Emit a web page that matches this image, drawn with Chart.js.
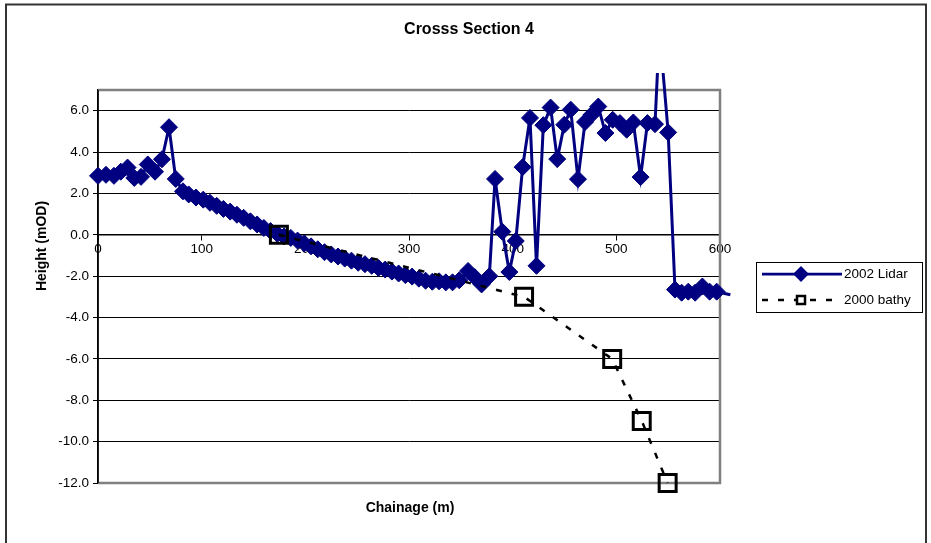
<!DOCTYPE html>
<html>
<head>
<meta charset="utf-8">
<script src="https://cdn.jsdelivr.net/npm/chart.js@4.4.0/dist/chart.umd.min.js"></script>
<style>
body { margin: 0; background: #fff; }
#wrap { width: 931px; height: 543px; }
</style>
</head>
<body>
<div id="wrap"><canvas id="graf"></canvas></div>
<script>
// chainage (m) and height (mOD)
const lidarX = [0, 7.7, 15.4, 22, 28.5, 35, 41.5, 48, 55, 61.7,
    68.5, 75, 82, 87.5, 94.5, 101.5, 108, 114.5, 121, 127.5,
    134, 140.5, 147, 153.5, 160, 166.5, 173, 179.5, 186, 192.5,
    199, 205.5, 212, 218.5, 225, 231.5, 238, 244.5, 251, 257.5,
    264, 270.5, 277, 283.5, 290, 296.5, 303, 309.5, 316, 322.5,
    329, 335.5, 342, 348.5, 357, 363.5, 370, 377.5, 383, 390,
    396.8, 403, 409.6, 416.7, 423, 429.6, 436.6, 443, 449.8, 456,
    463, 469.8, 476, 482.6, 489.5, 496.5, 503.5, 510, 516.4, 523.4,
    530, 537.3, 541.6, 550, 556.6, 563, 569.4, 576, 583, 590,
    596.8, 610];
const lidarY = [2.85, 2.9, 2.85, 3.05, 3.25, 2.75, 2.8, 3.4, 3.05, 3.65,
    5.2, 2.7, 2.1, 1.95, 1.8, 1.7, 1.55, 1.4, 1.25, 1.12,
    0.97, 0.82, 0.65, 0.5, 0.33, 0.18, 0.05, -0.08, -0.15, -0.28,
    -0.42, -0.56, -0.7, -0.84, -0.95, -1.05, -1.15, -1.25, -1.35, -1.42,
    -1.5, -1.6, -1.68, -1.78, -1.87, -1.95, -2.02, -2.12, -2.22, -2.27,
    -2.25, -2.3, -2.3, -2.2, -1.75, -2.05, -2.4, -2.0, 2.7, 0.15,
    -1.8, -0.3, 3.27, 5.65, -1.5, 5.3, 6.15, 3.66, 5.32, 6.05,
    2.69, 5.45, 5.8, 6.2, 4.92, 5.56, 5.4, 5.08, 5.43, 2.79,
    5.4, 5.35, 9.9, 4.95, -2.65, -2.8, -2.75, -2.8, -2.5, -2.75,
    -2.75, -2.9];

const bathyX = [174.5, 411, 496, 524.5, 549.5];
const bathyY = [0.0, -3.0, -6.0, -9.0, -12.0];

const xTicks = [0, 100, 200, 300, 400, 500, 600];
const yTicks = [-12, -10, -8, -6, -4, -2, 0, 2, 4, 6];

const naslov = "Crosss Section 4";
const naslovX = "Chainage (m)";
const naslovY = "Height (mOD)";
const imenaSerija = ["2002 Lidar", "2000 bathy"];

const navy = '#000080';
const font = "Arial, 'Liberation Sans', sans-serif";

Chart.defaults.font.family = font;
Chart.defaults.color = '#000';

const lidarData = lidarX.map((x, i) => ({ x: x, y: lidarY[i] }));
const bathyData = bathyX.map((x, i) => ({ x: x, y: bathyY[i] }));

const dekor = {
    id: 'dekor',
    beforeDraw(chart) {
        const ctx = chart.ctx;
        ctx.save();
        ctx.fillStyle = '#fff';
        ctx.fillRect(0, 0, chart.width, chart.height);
        ctx.strokeStyle = '#333';
        ctx.lineWidth = 2;
        ctx.strokeRect(6, 4.5, 920, 600);
        ctx.restore();
    },
    beforeDatasetsDraw(chart) {
        const ctx = chart.ctx;
        const a = chart.chartArea;
        ctx.save();
        ctx.strokeStyle = '#808080';
        ctx.lineWidth = 2.5;
        ctx.beginPath();
        ctx.moveTo(a.left, a.top);
        ctx.lineTo(a.right, a.top);
        ctx.lineTo(a.right, a.bottom);
        ctx.lineTo(a.left, a.bottom);
        ctx.stroke();
        ctx.strokeStyle = '#000';
        ctx.lineWidth = 1.5;
        ctx.beginPath();
        ctx.moveTo(a.left, a.top);
        ctx.lineTo(a.left, a.bottom);
        ctx.stroke();
        ctx.restore();
    },
    afterDraw(chart) {
        const ctx = chart.ctx;
        ctx.save();
        ctx.fillStyle = '#000';
        ctx.textAlign = 'center';
        ctx.textBaseline = 'middle';
        ctx.font = "bold 16px " + font;
        ctx.fillText(naslov, 469, 30);
        ctx.font = "bold 14px " + font;
        ctx.fillText(naslovX, 410, 508);
        ctx.translate(42, 246);
        ctx.rotate(-Math.PI / 2);
        ctx.fillText(naslovY, 0, 0);
        ctx.restore();

        // legend
        ctx.save();
        ctx.strokeStyle = '#000';
        ctx.lineWidth = 1;
        ctx.strokeRect(756.5, 262.5, 166, 50);

        ctx.strokeStyle = navy;
        ctx.lineWidth = 2.75;
        ctx.beginPath();
        ctx.moveTo(762, 274);
        ctx.lineTo(842, 274);
        ctx.stroke();
        Chart.helpers.drawPoint(ctx, { pointStyle: 'rectRot', radius: 6, borderWidth: 1 }, 801, 274);
        ctx.fillStyle = navy;
        ctx.fill();

        ctx.strokeStyle = '#000';
        ctx.lineWidth = 2.5;
        ctx.setLineDash([6, 10]);
        ctx.beginPath();
        ctx.moveTo(762, 300);
        ctx.lineTo(842, 300);
        ctx.stroke();
        ctx.setLineDash([]);
        ctx.fillStyle = '#fff';
        ctx.fillRect(797, 296, 8, 8);
        ctx.lineWidth = 2.5;
        ctx.strokeRect(797, 296, 8, 8);

        ctx.fillStyle = '#000';
        ctx.font = "13.5px " + font;
        ctx.textAlign = 'left';
        ctx.textBaseline = 'middle';
        ctx.fillText(imenaSerija[0], 844, 274);
        ctx.fillText(imenaSerija[1], 844, 300);
        ctx.restore();
    }
};

const skriveno = (ctx) => {
    const r = ctx.raw;
    return (r && (r.x > 600 || r.y > 7)) ? 0 : 8.5;
};

new Chart(document.getElementById('graf'), {
    type: 'line',
    data: {
        datasets: [{
            label: imenaSerija[0],
            data: lidarData,
            borderColor: navy,
            backgroundColor: navy,
            borderWidth: 3,
            pointStyle: 'rectRot',
            pointRadius: skriveno,
            pointBorderWidth: 1,
            pointBorderColor: navy,
            pointBackgroundColor: navy,
            fill: false,
            tension: 0,
            order: 1,
            clip: { left: 10, top: 17, right: 12, bottom: 15 }
        }, {
            label: imenaSerija[1],
            data: bathyData,
            borderColor: '#000',
            backgroundColor: 'transparent',
            borderWidth: 2.5,
            borderDash: [6, 10],
            pointStyle: 'rect',
            pointRadius: 12,
            pointBorderWidth: 3,
            pointBorderColor: '#000',
            pointBackgroundColor: 'transparent',
            fill: false,
            tension: 0,
            order: 0,
            clip: { left: 10, top: 17, right: 12, bottom: 15 }
        }]
    },
    options: {
        responsive: true,
        maintainAspectRatio: false,
        animation: false,
        layout: {
            padding: { left: 0, top: 90, right: 211, bottom: 60 }
        },
        plugins: {
            legend: { display: false },
            title: { display: false },
            tooltip: { enabled: false }
        },
        scales: {
            x: {
                type: 'linear',
                position: { y: 0 },
                min: 0,
                max: 600,
                afterBuildTicks: (scale) => {
                    scale.ticks = xTicks.map(v => ({ value: v }));
                },
                afterFit: (scale) => { scale.height = 0; },
                ticks: {
                    font: { size: 13.5 },
                    color: '#000',
                    padding: 1,
                    maxRotation: 0,
                    autoSkip: false
                },
                grid: {
                    drawOnChartArea: false,
                    drawTicks: true,
                    tickLength: 5,
                    color: '#000'
                },
                border: { display: true, color: '#000', width: 1.5 }
            },
            y: {
                type: 'linear',
                position: 'left',
                min: -12,
                max: 7,
                afterBuildTicks: (scale) => {
                    scale.ticks = yTicks.map(v => ({ value: v }));
                },
                afterFit: (scale) => { scale.width = 98; },
                ticks: {
                    font: { size: 13.5 },
                    color: '#000',
                    padding: 4,
                    callback: (v) => Number(v).toFixed(1)
                },
                grid: {
                    color: '#000',
                    lineWidth: 1,
                    drawTicks: true,
                    tickLength: 5,
                    tickColor: '#000'
                },
                border: { display: true, color: '#000', width: 1.5 }
            }
        }
    },
    plugins: [dekor]
});
</script>
</body>
</html>
